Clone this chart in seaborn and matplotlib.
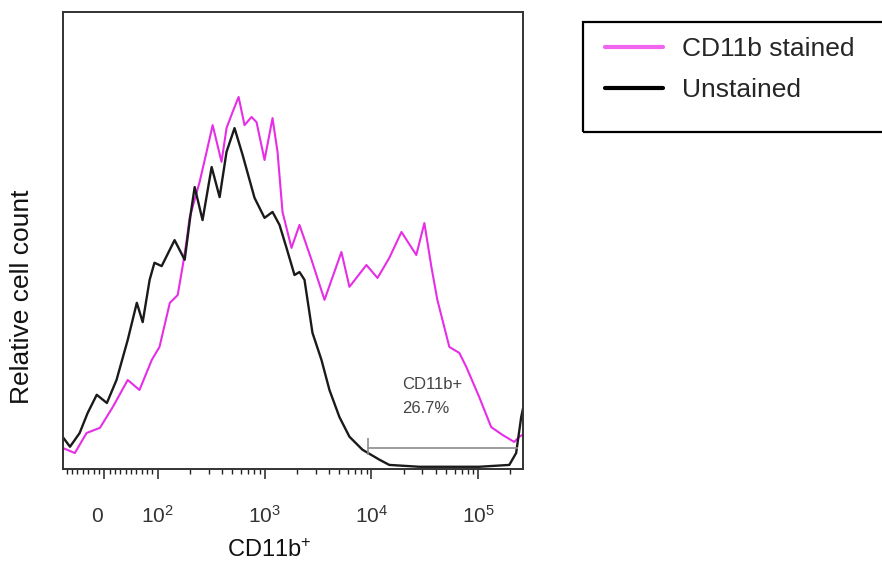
import matplotlib

matplotlib.use("Agg")
import matplotlib.pyplot as plt
import matplotlib.transforms as mtransforms
import numpy as np
import pandas as pd
import seaborn as sns
from matplotlib.lines import Line2D
from matplotlib.patches import Rectangle

# Intensidad CD11b (escala biexponencial) y cuenta relativa (% del modo)
unstained_x = [-78, -64, -46, -31, -14, 5, 23, 44, 61, 72,
               85, 94, 109, 144, 179, 203, 222, 263, 320, 380,
               441, 524, 623, 806, 1000, 1188, 1381, 1606, 1907, 2124,
               2365, 2809, 3410, 4050, 5020, 6230, 8240, 11900, 14700, 28100,
               102000, 195000, 226000, 252000, 262000]
unstained_y = [8.4, 5.7, 9.4, 14.8, 19.7, 17.5, 23.7, 34.5, 44.5, 39.3,
               50.7, 55.3, 54.4, 61.4, 56.1, 68.2, 75.7, 66.8, 81.1, 73.0,
               85.2, 91.6, 84.4, 72.8, 67.4, 69.0, 65.5, 59.3, 52.0, 52.8,
               50.7, 36.4, 29.1, 21.0, 13.7, 8.4, 4.9, 2.2, 0.8, 0.3,
               0.3, 0.8, 4.0, 13.7, 16.0]

stained_x = [-78, -55, -33, -8, 16, 44, 66, 89, 104, 130,
             154, 171, 187, 199, 247, 287, 327, 396, 441, 502,
             572, 650, 756, 842, 1000, 1188, 1323, 1473, 1788, 2124,
             2750, 3640, 5240, 6230, 8980, 11400, 14700, 19100, 26300, 31300,
             36400, 41400, 53600, 66400, 77300, 102000, 132000, 168000, 217000, 242000,
             262000]
stained_y = [5.4, 4.0, 9.4, 10.8, 16.4, 23.7, 21.0, 29.1, 32.6, 44.5,
             46.6, 54.2, 61.4, 67.4, 77.1, 85.2, 92.4, 82.5, 91.6, 95.9,
             100, 92.4, 94.6, 93.2, 83.0, 94.3, 85.2, 69.0, 59.3, 65.5,
             56.1, 45.3, 58.2, 48.8, 54.7, 51.2, 56.6, 63.6, 57.4, 66.0,
             54.2, 45.3, 32.6, 31.0, 27.2, 19.1, 11.0, 8.9, 7.0, 8.4,
             9.0]

tick_values = [0, 1e2, 1e3, 1e4, 1e5]
tick_labels = ["0", "$10^{2}$", "$10^{3}$", "$10^{4}$", "$10^{5}$"]

gate_x = [9200, 236000]
gate_y = 5.4
gate_text = "CD11b+\n26.7%"

PINK = "#e62ee6"
BLACK = "#1a1a1a"

sns.set_style("white")
plt.rcParams["font.family"] = ["Liberation Sans", "DejaVu Sans"]
plt.rcParams["mathtext.default"] = "regular"

fig = plt.figure(figsize=(8.82, 5.61), dpi=100)
ax = fig.add_axes([0.0709, 0.164, 0.5221, 0.8146])

df_un = pd.DataFrame({"x": unstained_x, "y": unstained_y})
df_st = pd.DataFrame({"x": stained_x, "y": stained_y})
sns.lineplot(data=df_st, x="x", y="y", ax=ax, color=PINK, lw=1.5,
             estimator=None, sort=False, legend=False)
sns.lineplot(data=df_un, x="x", y="y", ax=ax, color=BLACK, lw=1.7,
             estimator=None, sort=False, legend=False)

# puerta CD11b+
ax.hlines(gate_y, gate_x[0], gate_x[1], color="#8c8c8c", lw=1.2)
ax.vlines(gate_x[0], 3.5, 8.0, color="#8c8c8c", lw=1.2)
ax.text(19500, 19.2, gate_text, ha="left", va="center", fontsize=12,
        color="#444444", linespacing=1.75)

ax.set_xscale("symlog", linthresh=100, linscale=0.45)
ax.set_xlim(-78, 262144)
ax.set_ylim(-0.3, 122.9)

minor = [v for v in range(-70, 100, 10) if v != 0]
for dec in [1e2, 1e3, 1e4, 1e5]:
    minor += [k * dec for k in range(2, 10) if k * dec < 262144]
ax.set_xticks(minor, minor=True)
ax.set_xticks(tick_values, tick_labels)
ax.set_yticks([])
ax.tick_params(axis="x", which="major", direction="out", length=7, width=1.1,
               color="#222222", labelsize=15, labelcolor="#333333", pad=31.5,
               bottom=True)
ax.tick_params(axis="x", which="minor", direction="out", length=3.6, width=1.0,
               color="#222222", bottom=True)
for lab in ax.get_xticklabels():
    lab.set_va("baseline")
# la etiqueta "0" va un poco a la izquierda de su marca
zero_lab = ax.get_xticklabels()[0]
zero_lab.set_transform(zero_lab.get_transform()
                       + mtransforms.ScaledTranslation(-0.07, 0, fig.dpi_scale_trans))

for s in ax.spines.values():
    s.set_visible(True)
    s.set_color("#333333")
    s.set_linewidth(1.4)

ax.set_xlabel("CD11b$^{+}$", fontsize=17, color="#111111")
ax.xaxis.label.set_va("baseline")
ax.xaxis.set_label_coords(0.45, -0.1926)
ax.set_ylabel("Relative cell count", fontsize=19, color="#111111")
ax.yaxis.label.set_va("center")
ax.yaxis.set_label_coords(-0.088, 0.376)

# leyenda con marco aparte
handles = [Line2D([], [], color="#f064f0", lw=3),
           Line2D([], [], color="black", lw=3)]
fig.legend(handles, ["CD11b stained", "Unstained"], loc="upper left",
           bbox_to_anchor=(605 / 882, 1 - 37 / 561), frameon=False,
           fontsize=19, handlelength=2.2, handletextpad=0.7,
           labelspacing=0.64, borderpad=0, borderaxespad=0)
fig.add_artist(Rectangle((583 / 882, 1 - 132 / 561), 0.36, 110 / 561,
                         transform=fig.transFigure, fill=False, lw=1.6,
                         ec="black"))

fig.savefig("out.png", dpi=100)
